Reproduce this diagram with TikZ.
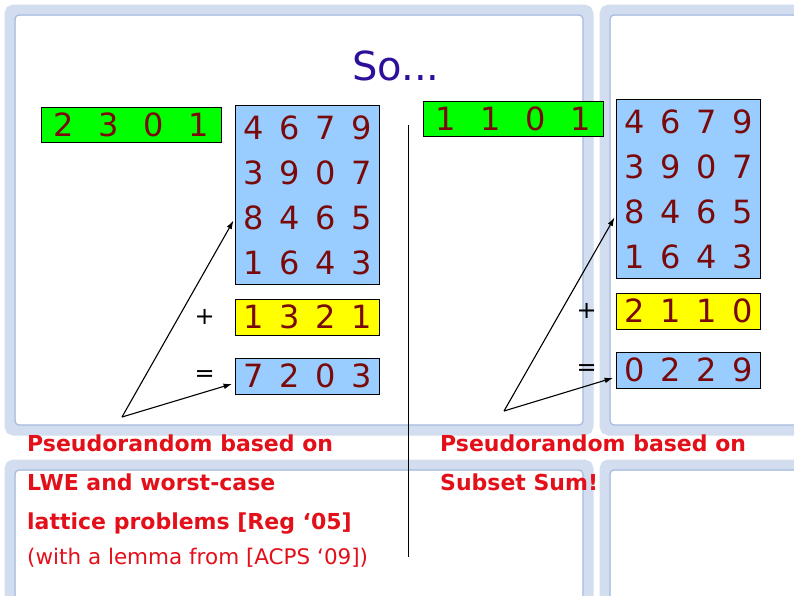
\documentclass[tikz,border=0pt]{standalone}
\usepackage{fontspec}
\setmainfont{DejaVu Sans}
\usetikzlibrary{arrows.meta,positioning}
\definecolor{titleblue}{HTML}{2E0F99}
\definecolor{digit}{HTML}{7A0A0A}
\definecolor{vecgreen}{HTML}{00FF00}
\definecolor{matblue}{HTML}{99CCFF}
\definecolor{sumyellow}{HTML}{FFFF00}
\definecolor{claim}{HTML}{E3101A}
\definecolor{pane}{HTML}{D2DDEF}
\definecolor{paneedge}{HTML}{A9BDDF}
\newcommand{\cells}[5]{\makebox[#1]{#2}\makebox[#1]{#3}\makebox[#1]{#4}\makebox[#1]{#5}}

\begin{document}
\begin{tikzpicture}[x=1pt,y=-1pt,
  frame/.style={draw=pane,line width=11pt,rounded corners=4pt},
  frameedge/.style={draw=paneedge,line width=1.4pt,rounded corners=4pt},
  numbox/.style={draw=black,line width=0.8pt,inner sep=0pt,text=digit,
    font=\fontsize{32}{45}\selectfont,align=center},
  vecbox/.style={numbox,fill=vecgreen,minimum width=180pt,minimum height=35pt},
  matbox/.style={numbox,fill=matblue,minimum width=143pt,minimum height=179pt},
  sumbox/.style={numbox,minimum width=143pt,minimum height=36pt},
  op/.style={font=\fontsize{24}{24}\selectfont,inner sep=0pt},
  claimtext/.style={text=claim,align=left,inner sep=0pt},
  arrow/.style={-{Latex[length=3mm,width=2mm]},line width=1.1pt,shorten >=3pt},
  node distance=14pt]
\useasboundingbox[fill=white] (0,0) rectangle (794,595);
% window panes behind the slide
\draw[frame] (10,10) rectangle (588,430);
\draw[frame] (605,10) rectangle (850,430);
\draw[frame] (10,465) rectangle (588,650);
\draw[frame] (605,465) rectangle (850,650);
\draw[frameedge] (15,15) rectangle (583,425);
\draw[frameedge] (610,15) rectangle (850,425);
\draw[frameedge] (15,470) rectangle (583,650);
\draw[frameedge] (610,470) rectangle (850,650);

\node[text=titleblue,font=\fontsize{40}{40}\selectfont] (title) at (396,66) {So...};

% left: lattice based
\node[matbox,anchor=north west] (lmat) at (235,105)
  {\cells{36pt}{4}{6}{7}{9}\\\cells{36pt}{3}{9}{0}{7}\\\cells{36pt}{8}{4}{6}{5}\\\cells{36pt}{1}{6}{4}{3}};
\node[vecbox,left=13pt of lmat.north west,anchor=north east,yshift=-2pt] (lvec)
  {\cells{45pt}{2}{3}{0}{1}};
\node[sumbox,fill=sumyellow,below=of lmat] (lsum) {\cells{36pt}{1}{3}{2}{1}};
\node[sumbox,fill=matblue,below=22pt of lsum] (lres) {\cells{36pt}{7}{2}{0}{3}};
\node[op,left=20pt of lsum] (lplus) {+};
\node[op,left=20pt of lres] (leq) {=};
\coordinate (lapex) at (122,417);
\draw[arrow] (lapex) -- ([yshift=-23pt]lmat.west);
\draw[arrow] (lapex) -- ([yshift=-7pt]lres.west);

\draw[line width=0.8pt] (408,125) -- (408,557);

% right: subset sum
\node[matbox,anchor=north west] (rmat) at (616,99)
  {\cells{36pt}{4}{6}{7}{9}\\\cells{36pt}{3}{9}{0}{7}\\\cells{36pt}{8}{4}{6}{5}\\\cells{36pt}{1}{6}{4}{3}};
\node[vecbox,left=12pt of rmat.north west,anchor=north east,yshift=-2pt] (rvec)
  {\cells{45pt}{1}{1}{0}{1}};
\node[sumbox,fill=sumyellow,below=of rmat] (rsum) {\cells{36pt}{2}{1}{1}{0}};
\node[sumbox,fill=matblue,below=22pt of rsum] (rres) {\cells{36pt}{0}{2}{2}{9}};
\node[op,left=19pt of rsum] (rplus) {+};
\node[op,left=19pt of rres] (req) {=};
\coordinate (rapex) at (504,411);
\draw[arrow] (rapex) -- ([yshift=-26pt]rmat.west);
\draw[arrow] (rapex) -- ([yshift=-7pt]rres.west);

% claims
\node[claimtext,anchor=north west,font=\fontsize{22}{39}\selectfont\bfseries] (lwe) at (27,435)
  {Pseudorandom based on\\LWE and worst-case\\lattice problems [Reg ‘05]};
\node[claimtext,anchor=base west,font=\fontsize{21.5}{22}\selectfont] (lemma) at (27,564)
  {(with a lemma from [ACPS ‘09])};
\node[claimtext,anchor=north west,font=\fontsize{22}{39}\selectfont\bfseries] (subsum) at (440,435)
  {Pseudorandom based on\\Subset Sum!};
\end{tikzpicture}
\end{document}
